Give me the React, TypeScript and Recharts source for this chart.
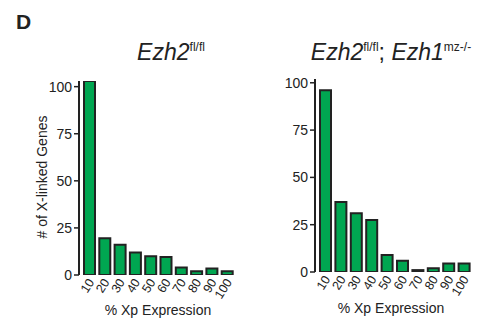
import { BarChart, Bar, XAxis, YAxis } from "recharts";

const bins = ["10", "20", "30", "40", "50", "60", "70", "80", "90", "100"];
const ctrlCounts = [103, 19.5, 16, 12, 10, 9.5, 4, 2, 3.5, 2];
const dkoCounts = [96, 37, 31, 27.5, 9, 6, 1, 2, 4.5, 4.5];
const yTicks = [0, 25, 50, 75, 100];

const ctrlData = bins.map((bin, i) => ({ bin, count: ctrlCounts[i] }));
const dkoData = bins.map((bin, i) => ({ bin, count: dkoCounts[i] }));

const FONT = "'Liberation Sans', Arial, sans-serif";
const INK = "#222";
const GREEN = "#00a651";

const RotTick = (props: any) => {
  const { x, y, payload } = props;
  const ax = x + 5;
  const ay = y + 7;
  return (
    <text
      x={ax}
      y={ay}
      transform={`rotate(-58, ${ax}, ${ay})`}
      textAnchor="end"
      fontSize={12.5}
      fontFamily={FONT}
      fill={INK}
    >
      {payload.value}
    </text>
  );
};

interface PanelProps {
  data: { bin: string; count: number }[];
  width: number;
  top: number;
  plotH: number;
  left: number;
  right: number;
  yMax: number;
}

function Panel({ data, width, top, plotH, left, right, yMax }: PanelProps) {
  return (
    <BarChart
      width={width}
      height={328}
      data={data}
      margin={{ top, right, bottom: 0, left }}
      barCategoryGap={2}
    >
      <XAxis
        dataKey="bin"
        axisLine={false}
        tickLine={false}
        tickSize={0}
        tickMargin={0}
        interval={0}
        height={328 - top - plotH}
        padding={{ left: 3, right: 2 }}
        tick={<RotTick />}
      />
      <YAxis
        width={40}
        domain={[0, yMax]}
        ticks={yTicks}
        allowDataOverflow
        axisLine={{ stroke: INK, strokeWidth: 2 }}
        tickLine={{ stroke: INK, strokeWidth: 1.5 }}
        tickSize={5}
        tick={{ fill: INK, fontSize: 14, fontFamily: FONT }}
      />
      <Bar
        dataKey="count"
        fill={GREEN}
        stroke={INK}
        strokeWidth={2}
        isAnimationActive={false}
      />
    </BarChart>
  );
}

export default function App() {
  return (
    <div
      style={{
        position: "absolute",
        left: 0,
        top: 0,
        width: 491,
        height: 328,
        background: "#fff",
      }}
    >
      <div style={{ position: "absolute", left: 0, top: 0 }}>
        <Panel data={ctrlData} width={250} top={81} plotH={194} left={39} right={13} yMax={103} />
      </div>
      <div style={{ position: "absolute", left: 245, top: 0 }}>
        <Panel data={dkoData} width={246} top={79} plotH={193} left={30} right={17} yMax={102} />
      </div>
      <svg
        width={491}
        height={328}
        style={{ position: "absolute", left: 0, top: 0, pointerEvents: "none" }}
        fontFamily={FONT}
        fill={INK}
      >
        <text x={16} y={29} fontSize={21} fontWeight="bold">
          D
        </text>
        <text x={171} y={60} fontSize={23} fontStyle="italic" textAnchor="middle">
          Ezh2
          <tspan fontSize={12} fontStyle="normal" dy={-9}>
            fl/fl
          </tspan>
        </text>
        <text x={391} y={60} fontSize={23} textAnchor="middle">
          <tspan fontStyle="italic">Ezh2</tspan>
          <tspan fontSize={12} dy={-9}>
            fl/fl
          </tspan>
          <tspan dy={9}>; </tspan>
          <tspan fontStyle="italic">Ezh1</tspan>
          <tspan fontSize={12} dy={-9}>
            mz-/-
          </tspan>
        </text>
        <text
          x={47}
          y={177}
          fontSize={14}
          textAnchor="middle"
          transform="rotate(-90, 47, 177)"
        >
          # of X-linked Genes
        </text>
        <text x={158} y={315} fontSize={14} textAnchor="middle">
          % Xp Expression
        </text>
        <text x={391} y={313} fontSize={14} textAnchor="middle">
          % Xp Expression
        </text>
      </svg>
    </div>
  );
}
